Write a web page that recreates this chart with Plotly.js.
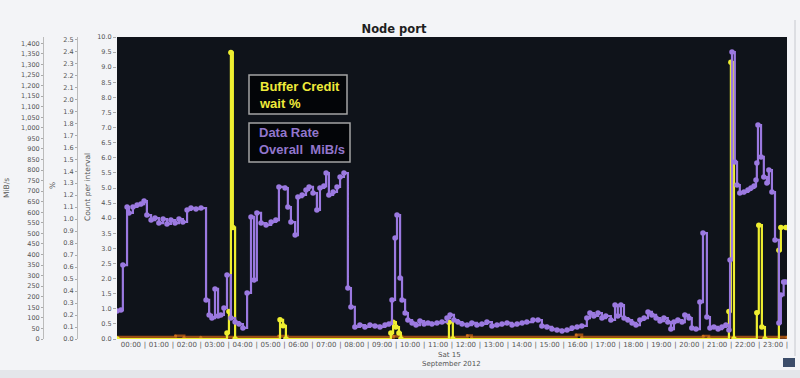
<!DOCTYPE html>
<html>
<head>
<meta charset="utf-8">
<script src="https://cdn.plot.ly/plotly-3.0.1.min.js"></script>
<style>html,body{margin:0;padding:0;background:#f3f4f7;}#chart{width:800px;height:378px;}</style>
</head>
<body>
<div id="chart"></div>
<script>
// ---- Data (hours since 00:00, Sat 15 September 2012) ----
const hourLabels = ['00:00','01:00','02:00','03:00','04:00','05:00','06:00','07:00','08:00','09:00','10:00','11:00',
  '12:00','13:00','14:00','15:00','16:00','17:00','18:00','19:00','20:00','21:00','22:00','23:00'];

// Data Rate Overall MiB/s
const rateHours = [0.00,0.14,0.21,0.36,0.43,0.57,0.72,0.86,0.97,1.07,1.22,1.36,1.50,1.65,1.79,1.93,2.08,2.22,2.36,2.51,
  2.65,2.83,3.01,3.19,3.30,3.40,3.51,3.62,3.72,3.83,3.94,4.08,4.23,4.37,4.51,4.66,4.80,4.91,5.01,5.16,5.34,5.52,5.69,
  5.80,6.02,6.12,6.23,6.38,6.48,6.63,6.77,6.88,7.02,7.16,7.27,7.41,7.49,7.59,7.74,7.88,7.99,8.13,8.27,8.38,8.52,8.70,
  8.88,9.06,9.24,9.42,9.60,9.74,9.85,9.96,10.03,10.14,10.21,10.32,10.42,10.57,10.71,10.85,11.00,11.14,11.28,11.46,
  11.64,11.82,11.93,12.07,12.21,12.36,12.54,12.71,12.89,13.07,13.25,13.43,13.61,13.79,13.97,14.15,14.33,14.51,14.68,
  14.90,15.08,15.22,15.40,15.58,15.76,15.94,16.12,16.30,16.48,16.65,16.83,16.94,17.08,17.23,17.37,17.51,17.69,17.84,
  17.94,18.05,18.16,18.30,18.45,18.59,18.73,18.88,19.02,19.16,19.31,19.45,19.59,19.73,19.84,19.95,20.09,20.24,20.34,
  20.49,20.59,20.74,20.88,20.99,21.13,21.24,21.38,21.53,21.67,21.81,21.92,21.96,22.03,22.13,22.21,22.31,22.46,22.60,
  22.71,22.82,22.89,22.92,22.96,23.07,23.17,23.28,23.35,23.46,23.57,23.71,23.78,23.88,23.95];
const rateMiB = [133,137,350,625,597,625,634,639,653,587,563,573,549,568,545,563,549,568,554,611,
  620,616,620,185,114,99,237,109,114,147,303,99,80,71,52,218,578,279,597,549,540,554,563,
  720,715,625,554,492,672,682,706,720,691,611,715,724,786,682,696,720,767,786,241,152,57,66,
  57,66,62,57,66,71,185,478,587,289,185,123,90,76,66,85,71,76,71,76,
  80,99,114,90,80,71,66,76,66,71,80,62,66,71,76,66,71,76,80,
  90,90,62,57,47,43,38,43,52,57,62,99,123,109,123,99,109,90,161,
  109,161,99,90,76,66,90,99,128,114,99,85,99,80,47,80,90,80,114,
  99,52,47,175,502,104,52,57,47,57,66,43,374,1359,838,729,691,696,706,
  715,724,753,833,1013,862,767,739,800,696,469,76,208,270,270];

// Buffer Credit wait %
const waitHours = [0.00,3.94,4.01,4.08,4.15,4.23,5.84,5.95,6.05,9.81,9.89,9.99,10.10,10.17,11.89,12.03,
  21.92,21.99,22.10,22.92,22.99,23.10,23.21,23.71,23.78,23.96];
const waitPct = [0,0.05,0.23,2.39,0.93,0,0.16,0.11,0,0.05,0.14,0.10,0.05,0,0.14,0,
  0.23,2.31,0,0.22,0.95,0.10,0,0.74,0.93,0.93];

// Count per interval
const countHours = [0.00,2.10,2.40,3.00,5.80,6.10,9.90,10.20,12.55,12.70,16.45,16.65,21.00,21.20,24.00];
const countVals = [0.06,0.10,0.06,0.06,0.09,0.06,0.09,0.06,0.11,0.06,0.13,0.06,0.09,0.06,0.06];

// ---- Chart ----
const F = 'DejaVu Sans, Verdana, sans-serif';
const PW = 787; // paper width in px (800 - right margin)
const px = v => v / PW;
const py = v => (339 - v) / 302;

const tickvals = [], ticktext = [];
hourLabels.forEach((h, i) => { tickvals.push(i + 0.5); ticktext.push(h); tickvals.push(i + 1); ticktext.push('|'); });

const traces = [
  {x: countHours, y: countVals, yaxis: 'y', type: 'scatter', mode: 'lines+markers', line: {shape: 'hv', color: '#9a4e14', width: 3},
   marker: {size: 3, color: '#c8701e'}, hoverinfo: 'skip'},
  {x: rateHours, y: rateMiB, yaxis: 'y3', type: 'scatter', mode: 'lines+markers', line: {shape: 'hv', color: '#9b79e0', width: 2.2},
   marker: {size: 5.5, color: '#9b79e0'}, hoverinfo: 'skip'},
  {x: waitHours, y: waitPct, yaxis: 'y2', type: 'scatter', mode: 'lines+markers', line: {shape: 'hv', color: '#eeee30', width: 2.2},
   marker: {size: 5.5, color: '#eeee30'}, hoverinfo: 'skip'}
];

const tf = {family: F, size: 6.5, color: '#555'};
const layout = {
  width: 800, height: 378,
  margin: {l: 0, r: 13, t: 37, b: 39, pad: 0},
  paper_bgcolor: '#f3f4f7', plot_bgcolor: '#0f131a',
  showlegend: false, hovermode: false,
  title: {text: '<b>Node port</b>', x: 394 / 800, xref: 'container', xanchor: 'center',
          y: 1 - 29 / 378, yref: 'container', yanchor: 'middle', font: {family: F, size: 11.5, color: '#1e1e1e'}},
  xaxis: {domain: [117 / PW, 1], range: [0, 24], tickmode: 'array', tickvals: tickvals, ticktext: ticktext,
          ticks: '', showgrid: false, zeroline: false, showline: false, tickangle: 0,
          tickfont: {family: F, size: 7, color: '#555'}},
  yaxis: {range: [0, 10], tickmode: 'linear', tick0: 0, dtick: 0.5, tickformat: '.1f', ticks: 'outside', ticklen: 3,
          tickcolor: '#aaa', showgrid: false, zeroline: false, showline: false, tickfont: tf},
  yaxis2: {overlaying: 'y', anchor: 'free', position: 77 / PW, side: 'left', range: [0, 2.52], tickmode: 'linear', tick0: 0,
           dtick: 0.1, tickformat: '.1f', ticks: 'outside', ticklen: 2, tickcolor: '#aaa', showline: true, linecolor: '#bbb',
           linewidth: 1, showgrid: false, zeroline: false, tickfont: tf},
  yaxis3: {overlaying: 'y', anchor: 'free', position: 43 / PW, side: 'left', range: [0, 1430], tickmode: 'linear', tick0: 0,
           dtick: 50, tickformat: ',d', ticks: 'outside', ticklen: 2, tickcolor: '#aaa', showline: true, linecolor: '#bbb',
           linewidth: 1, showgrid: false, zeroline: false, tickfont: tf},
  shapes: [
    {type: 'rect', xref: 'paper', yref: 'paper', x0: px(249), x1: px(347), y0: py(114), y1: py(75),
     line: {color: '#a4a4a4', width: 1.5}, fillcolor: '#030508'},
    {type: 'rect', xref: 'paper', yref: 'paper', x0: px(249), x1: px(350), y0: py(162), y1: py(123),
     line: {color: '#a4a4a4', width: 1.5}, fillcolor: '#030508'},
    {type: 'rect', xref: 'paper', yref: 'paper', x0: px(-5), x1: px(805), y0: py(378), y1: py(370),
     line: {width: 0}, fillcolor: '#e4e6ea', layer: 'below'},
    {type: 'line', xref: 'paper', yref: 'paper', x0: px(795), x1: px(795), y0: py(356), y1: py(20),
     line: {color: '#c6c8ce', width: 1}},
    {type: 'rect', xref: 'paper', yref: 'paper', x0: px(783), x1: px(795), y0: py(367), y1: py(358),
     line: {width: 0}, fillcolor: '#3c4d6a'}
  ],
  annotations: [
    {text: '<b>Buffer Credit<br>wait %</b>', xref: 'paper', yref: 'paper', x: px(257), y: py(95), xanchor: 'left', yanchor: 'middle',
     align: 'left', showarrow: false, font: {family: 'Liberation Sans, Arial, sans-serif', size: 13, color: '#efea3a'}},
    {text: '<b>Data Rate<br>Overall  MiB/s</b>', xref: 'paper', yref: 'paper', x: px(257), y: py(141), xanchor: 'left', yanchor: 'middle',
     align: 'left', showarrow: false, font: {family: 'Liberation Sans, Arial, sans-serif', size: 13, color: '#9276cc'}},
    {text: 'MiB/s', xref: 'paper', yref: 'paper', x: px(6), y: py(188), xanchor: 'center', yanchor: 'middle', textangle: -90,
     showarrow: false, font: {family: F, size: 7.5, color: '#555'}},
    {text: '%', xref: 'paper', yref: 'paper', x: px(52), y: py(186), xanchor: 'center', yanchor: 'middle', textangle: -90,
     showarrow: false, font: {family: F, size: 7.5, color: '#555'}},
    {text: 'Count per interval', xref: 'paper', yref: 'paper', x: px(87), y: py(187), xanchor: 'center', yanchor: 'middle', textangle: -90,
     showarrow: false, font: {family: F, size: 7.5, color: '#555'}},
    {text: 'Sat 15', xref: 'paper', yref: 'paper', x: px(450), y: py(354.5), xanchor: 'center', yanchor: 'middle',
     showarrow: false, font: {family: F, size: 7, color: '#555'}},
    {text: 'September 2012', xref: 'paper', yref: 'paper', x: px(451), y: py(363.5), xanchor: 'center', yanchor: 'middle',
     showarrow: false, font: {family: F, size: 7, color: '#555'}}
  ]
};

Plotly.newPlot('chart', traces, layout, {staticPlot: true, displayModeBar: false});
</script>
</body>
</html>
